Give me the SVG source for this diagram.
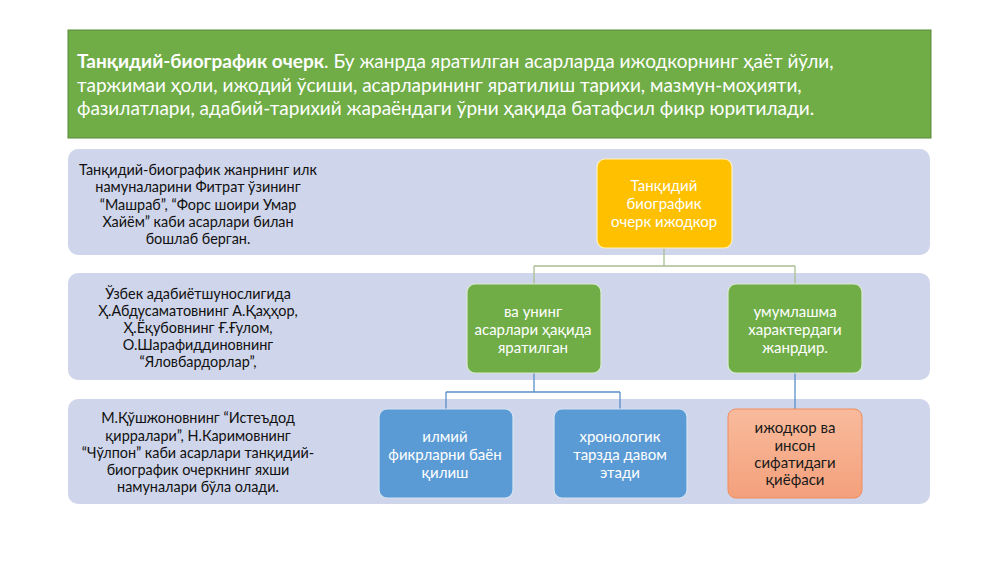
<svg xmlns="http://www.w3.org/2000/svg" width="1000" height="562" viewBox="0 0 1000 562">
<defs>
<style>
.band{fill:#cfd5ea;}
.lt{font-family:Lato,"Open Sans","Liberation Sans",sans-serif;font-size:14.4px;fill:#111;text-anchor:middle;}
.bt{font-family:Lato,"Open Sans","Liberation Sans",sans-serif;font-size:15px;fill:#fff;text-anchor:middle;}
.ht{font-family:Lato,"Open Sans","Liberation Sans",sans-serif;font-size:19px;fill:#fff;}
.cg{stroke:#a9bf92;stroke-width:1.3;fill:none;}
.cb{stroke:#5a8fc8;stroke-width:1.3;fill:none;}
</style>
<linearGradient id="salmon" x1="0" y1="0" x2="0" y2="1">
<stop offset="0" stop-color="#f8bb9c"/>
<stop offset="1" stop-color="#f4a07c"/>
</linearGradient>
</defs>
<rect width="1000" height="562" fill="#ffffff"/>

<g id="header">
<rect x="68" y="30" width="863" height="108" fill="#70ad47" stroke="#5a8a3a" stroke-width="1"/>
<text class="ht" x="77" y="68"><tspan font-weight="bold">Танқидий-биографик очерк</tspan>. Бу жанрда яратилган асарларда ижодкорнинг ҳаёт йўли,</text>
<text class="ht" x="77" y="92">таржимаи ҳоли, ижодий ўсиши, асарларининг яратилиш тарихи, мазмун-моҳияти,</text>
<text class="ht" x="77" y="115">фазилатлари, адабий-тарихий жараёндаги ўрни ҳақида батафсил фикр юритилади.</text>
</g>

<g id="band1">
<rect class="band" x="68" y="149" width="862" height="106" rx="10"/>
<text class="lt" x="198" y="175">Танқидий-биографик жанрнинг илк</text>
<text class="lt" x="198" y="192">намуналарини Фитрат  ўзининг</text>
<text class="lt" x="198" y="210">“Машраб”, “Форс шоири Умар</text>
<text class="lt" x="198" y="227">Хайём” каби асарлари билан</text>
<text class="lt" x="198" y="244">бошлаб берган.</text>
</g>

<g id="band2">
<rect class="band" x="68" y="273" width="862" height="107" rx="10"/>
<text class="lt" x="198" y="299">Ўзбек адабиётшунослигида</text>
<text class="lt" x="198" y="316">Ҳ.Абдусаматовнинг А.Қаҳҳор,</text>
<text class="lt" x="198" y="333">Ҳ.Ёқубовнинг Ғ.Ғулом,</text>
<text class="lt" x="198" y="350">О.Шарафиддиновнинг</text>
<text class="lt" x="198" y="367">“Яловбардорлар”,</text>
</g>

<g id="band3">
<rect class="band" x="68" y="399" width="862" height="105" rx="10"/>
<text class="lt" x="198" y="423">М.Қўшжоновнинг  “Истеъдод</text>
<text class="lt" x="198" y="441">қирралари”, Н.Каримовнинг</text>
<text class="lt" x="198" y="458">“Чўлпон” каби асарлари танқидий-</text>
<text class="lt" x="198" y="475">биографик очеркнинг яхши</text>
<text class="lt" x="198" y="492">намуналари бўла олади.</text>
</g>

<g id="connectors">
<path class="cg" d="M664 248 V266 M534 266 H795 M534 266 V284 M795 266 V284"/>
<path class="cb" d="M534 373 V392 M446 392 H620 M446 392 V409 M620 392 V409"/>
<path class="cb" d="M795 373 V409"/>
</g>

<g id="node-root">
<rect x="597" y="159" width="135" height="89" rx="8" fill="#ffc000" stroke="#fff2c0" stroke-width="1.2"/>
<text class="bt" x="664" y="191">Танқидий</text>
<text class="bt" x="664" y="209">биографик</text>
<text class="bt" x="664" y="227">очерк ижодкор</text>
</g>

<g id="node-green1">
<rect x="467" y="284" width="134" height="89" rx="8" fill="#70ad47" stroke="#d9ead0" stroke-width="1.2"/>
<text class="bt" x="533" y="317">ва унинг</text>
<text class="bt" x="533" y="335">асарлари ҳақида</text>
<text class="bt" x="533" y="353">яратилган</text>
</g>

<g id="node-green2">
<rect x="728" y="284" width="134" height="89" rx="8" fill="#70ad47" stroke="#d9ead0" stroke-width="1.2"/>
<text class="bt" x="795" y="317">умумлашма</text>
<text class="bt" x="795" y="335">характердаги</text>
<text class="bt" x="795" y="353">жанрдир.</text>
</g>

<g id="node-blue1">
<rect x="379" y="409" width="134" height="89" rx="8" fill="#5b9bd5" stroke="#d6e4f2" stroke-width="1.2"/>
<text class="bt" x="445" y="442">илмий</text>
<text class="bt" x="445" y="460">фикрларни баён</text>
<text class="bt" x="445" y="478">қилиш</text>
</g>

<g id="node-blue2">
<rect x="554" y="409" width="133" height="89" rx="8" fill="#5b9bd5" stroke="#d6e4f2" stroke-width="1.2"/>
<text class="bt" x="620" y="442">хронологик</text>
<text class="bt" x="620" y="460">тарзда давом</text>
<text class="bt" x="620" y="478">этади</text>
</g>

<g id="node-salmon">
<rect x="728" y="409" width="134" height="89" rx="8" fill="url(#salmon)" stroke="#f08c5e" stroke-width="1"/>
<text class="bt" x="795" y="433" style="fill:#1a1a1a">ижодкор ва</text>
<text class="bt" x="795" y="451" style="fill:#1a1a1a">инсон</text>
<text class="bt" x="795" y="468" style="fill:#1a1a1a">сифатидаги</text>
<text class="bt" x="795" y="485" style="fill:#1a1a1a">қиёфаси</text>
</g>
</svg>
